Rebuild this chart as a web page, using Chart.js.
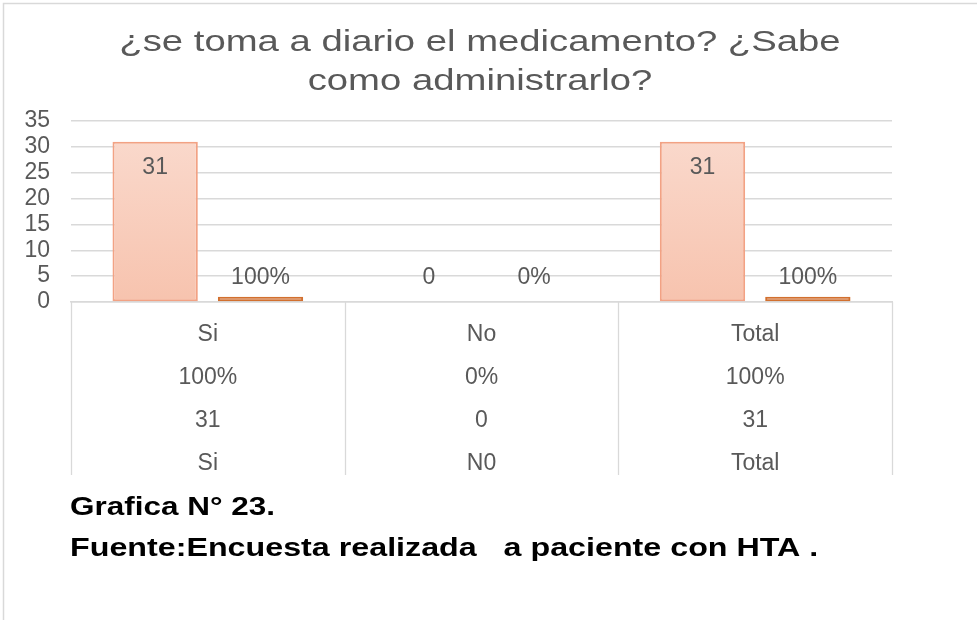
<!DOCTYPE html>
<html>
<head>
<meta charset="utf-8">
<script src="https://cdn.jsdelivr.net/npm/chart.js@4.4.1/dist/chart.umd.min.js"></script>
<style>
  html, body { margin: 0; padding: 0; background: #ffffff; }
  #wrap { position: relative; width: 977px; height: 620px; }
</style>
</head>
<body>
<div id="wrap"><canvas id="c" width="977" height="620"></canvas></div>
<script>
// ---- data ----
const categories = ['Si', 'No', 'Total'];
const counts = [31, 0, 31];
const percents = [1, 0, 1];            // 100% = 1
const tableLastRow = ['Si', 'N0', 'Total'];
const yTicks = [0, 5, 10, 15, 20, 25, 30, 35];
const titleLines = ['¿se toma a diario el medicamento? ¿Sabe', 'como administrarlo?'];
const footerLines = ['Grafica N° 23.', 'Fuente:Encuesta realizada   a paciente con HTA .'];

const FONT = "'Liberation Sans', Arial, sans-serif";
const GREY = '#595959';
const LINE = '#D9D9D9';

const pctText = v => Math.round(v * 100) + '%';

function stretchedText(ctx, txt, x, y, sx, align) {
  ctx.save();
  ctx.translate(x, y);
  ctx.scale(sx, 1);
  ctx.textAlign = align;
  ctx.fillText(txt, 0, 0);
  ctx.restore();
}

const frame = {
  id: 'frame',
  beforeDraw(chart) {
    const ctx = chart.ctx;
    ctx.save();
    ctx.strokeStyle = LINE;
    ctx.lineWidth = 1.5;
    ctx.beginPath();
    ctx.moveTo(3.5, chart.height);
    ctx.lineTo(3.5, 3.5);
    ctx.lineTo(chart.width, 3.5);
    ctx.stroke();
    ctx.restore();
  }
};

const texts = {
  id: 'texts',
  afterDraw(chart) {
    const ctx = chart.ctx;
    const xs = chart.scales.x;
    const area = chart.chartArea;
    ctx.save();
    // title (stretched like the original)
    ctx.fillStyle = GREY;
    ctx.font = '29px ' + FONT;
    ctx.textBaseline = 'alphabetic';
    stretchedText(ctx, titleLines[0], 480, area.top - 70.5, 1.32, 'center');
    stretchedText(ctx, titleLines[1], 480, area.top - 31, 1.32, 'center');

    // data table vertical lines
    ctx.strokeStyle = LINE;
    ctx.lineWidth = 1.3;
    const n = categories.length;
    const w = (xs.right - xs.left) / n;
    for (let i = 0; i <= n; i++) {
      const x = Math.round(xs.left + i * w) + 0.5;
      ctx.beginPath();
      ctx.moveTo(x, area.bottom);
      ctx.lineTo(x, xs.bottom - 7);
      ctx.stroke();
    }
    // data labels
    ctx.font = '23px ' + FONT;
    ctx.fillStyle = GREY;
    ctx.textAlign = 'center';
    ctx.textBaseline = 'middle';
    chart.data.datasets.forEach((ds, di) => {
      const meta = chart.getDatasetMeta(di);
      meta.data.forEach((bar, i) => {
        const v = ds.data[i];
        const txt = di === 1 ? pctText(v) : String(v);
        let y;
        if (bar.base - bar.y > 40) y = bar.y + 26;
        else y = Math.min(bar.y - 18.5, bar.base - 24);
        ctx.fillText(txt, bar.x, y);
      });
    });
    // footer
    ctx.fillStyle = '#000000';
    ctx.font = 'bold 26px ' + FONT;
    ctx.textBaseline = 'alphabetic';
    stretchedText(ctx, footerLines[0], xs.left - 1, xs.bottom + 33, 1.21, 'left');
    stretchedText(ctx, footerLines[1], xs.left - 1, xs.bottom + 74, 1.24, 'left');
    ctx.restore();
  }
};

const ctx = document.getElementById('c').getContext('2d');
new Chart(ctx, {
  type: 'bar',
  data: {
    labels: categories,
    datasets: [
      {
        label: 'Cantidad',
        data: counts,
        backgroundColor: (c) => {
          const a = c.chart.chartArea;
          if (!a) return '#F8CDBB';
          const g = c.chart.ctx.createLinearGradient(0, a.top, 0, a.bottom);
          g.addColorStop(0, '#FADBCF');
          g.addColorStop(1, '#F7C3AE');
          return g;
        },
        borderColor: '#F2A284',
        borderWidth: 2,
        borderSkipped: false,
        categoryPercentage: 0.77,
        barPercentage: 0.81
      },
      {
        label: 'Porcentaje',
        data: percents,
        backgroundColor: '#E4A68A',
        borderColor: '#D2702F',
        borderWidth: 2,
        borderSkipped: false,
        categoryPercentage: 0.77,
        barPercentage: 0.81
      }
    ]
  },
  options: {
    responsive: false,
    animation: false,
    layout: { padding: { left: 20, right: 85, top: 121, bottom: 138 } },
    plugins: {
      legend: { display: false },
      tooltip: { enabled: false },
      title: { display: false }
    },
    scales: {
      x: {
        afterFit: (s) => { s.height = 180; },
        grid: { display: false, drawTicks: false },
        border: { display: true, color: LINE, width: 1.5 },
        ticks: {
          padding: 11,
          color: GREY,
          maxRotation: 0,
          autoSkip: false,
          font: { family: FONT, size: 23, lineHeight: 43 / 23 },
          callback: (v, i) => [categories[i], pctText(percents[i]), String(counts[i]), tableLastRow[i]]
        }
      },
      y: {
        min: 0,
        max: 35,
        afterBuildTicks: (s) => { s.ticks = yTicks.map(v => ({ value: v })); },
        afterFit: (s) => { s.width = 51; },
        grid: { color: LINE, lineWidth: 1.5, drawTicks: false },
        border: { display: false },
        ticks: {
          autoSkip: false,
          padding: 21,
          color: GREY,
          font: { family: FONT, size: 23 }
        }
      }
    }
  },
  plugins: [frame, texts]
});
</script>
</body>
</html>
